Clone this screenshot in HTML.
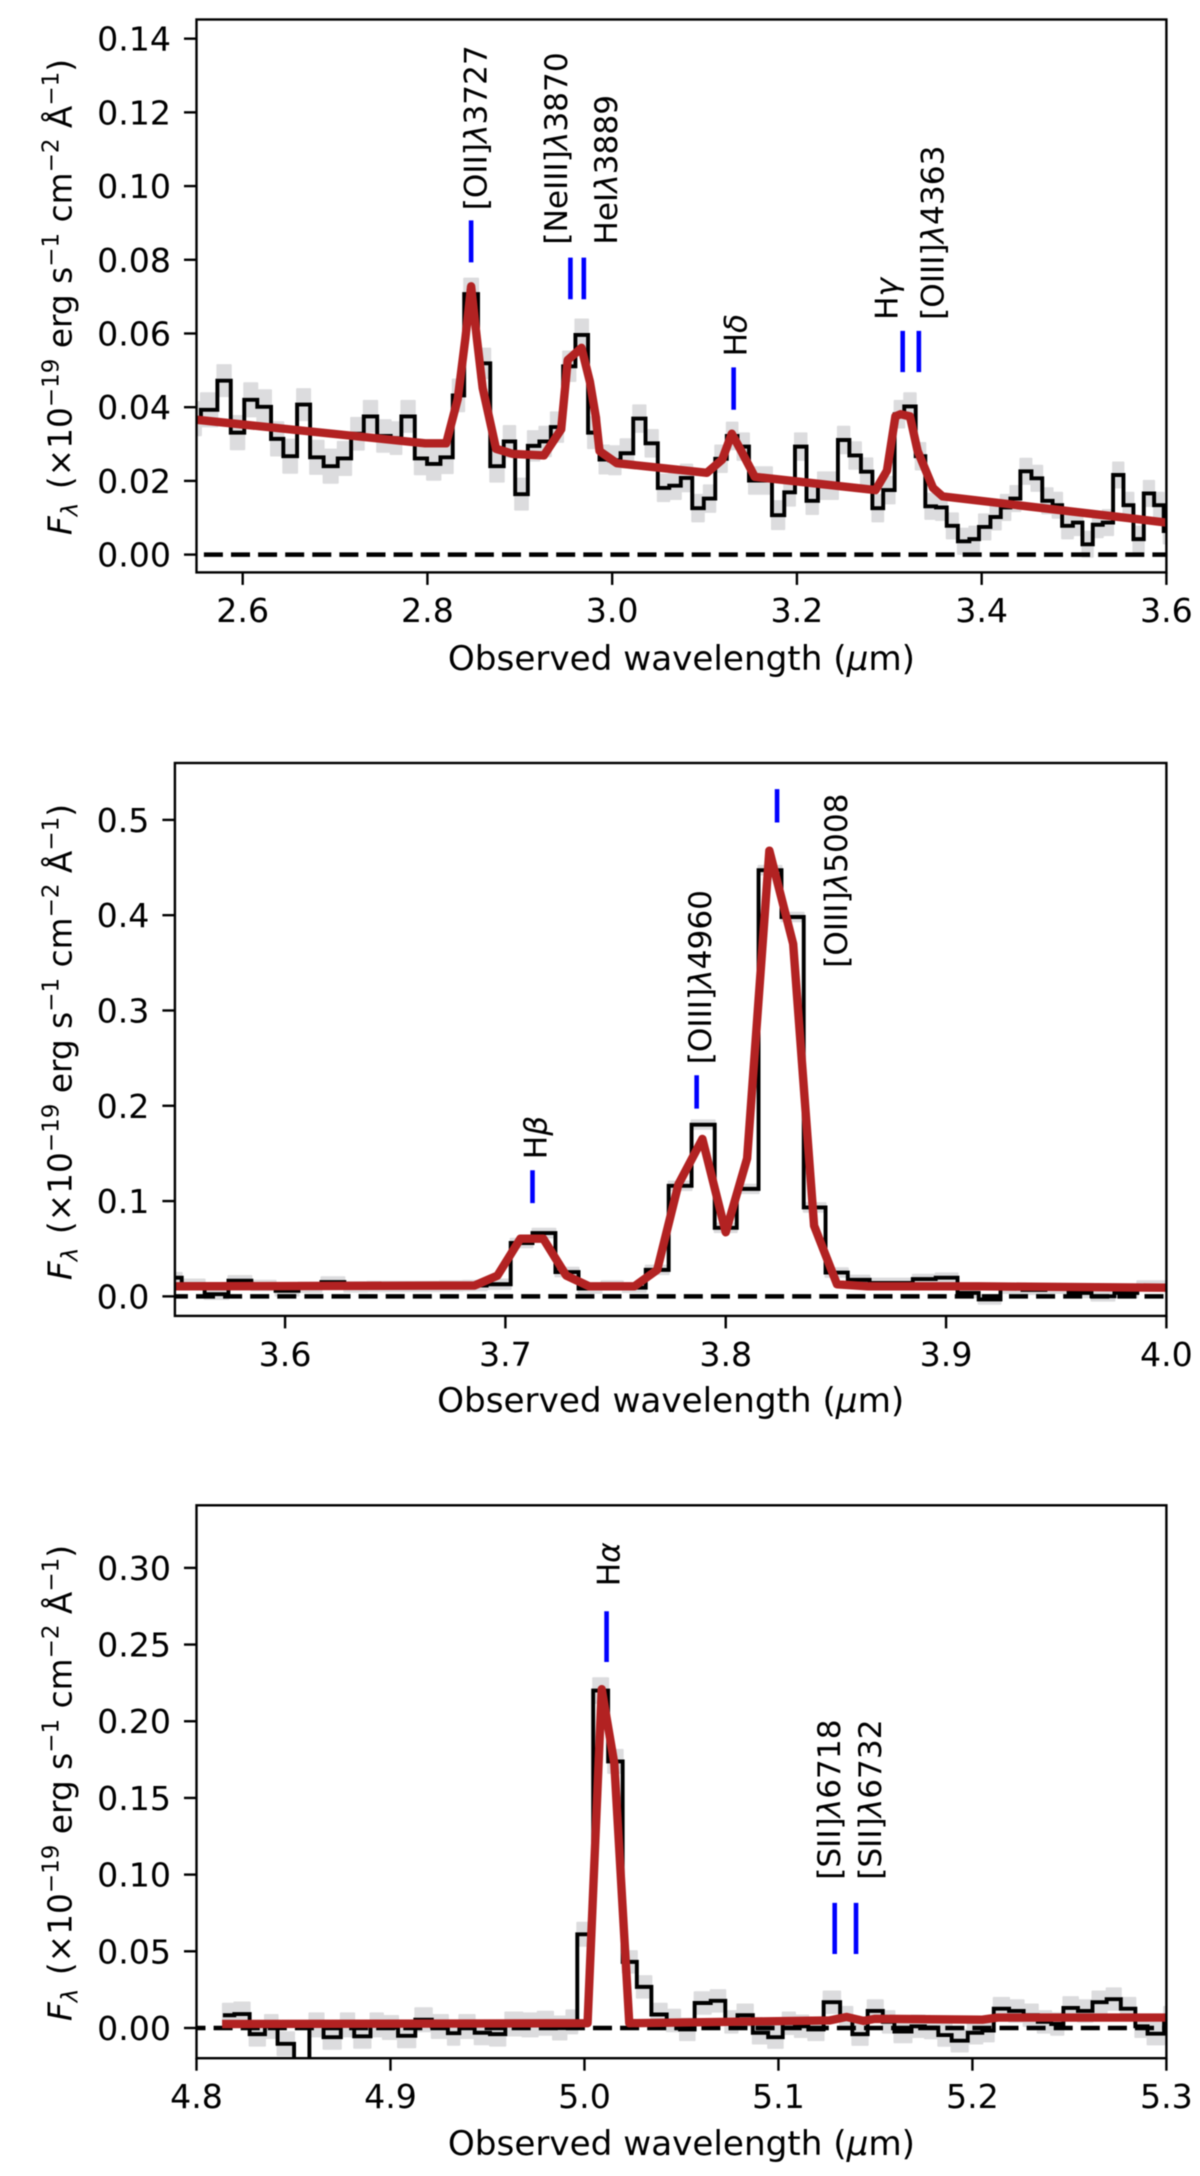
<!DOCTYPE html>
<html lang="en">
<head>
<meta charset="utf-8">
<title>Observed spectrum panels</title>
<style>
html,body{margin:0;padding:0;background:#fff;}
body{width:1200px;height:2176px;overflow:hidden;}
svg{position:absolute;left:0;top:0;filter:blur(0.55px);}
text{font-family:"DejaVu Sans","Liberation Sans",sans-serif;fill:#000;}
</style>
</head>
<body>
<svg id="fig" xmlns="http://www.w3.org/2000/svg" width="1200" height="2176" viewBox="0 0 1200 2176"></svg>
<script>
// ---------- Panel 1 data ----------
const edges1 = [2.55,2.5548,2.5726,2.5871,2.6017,2.6158,2.6307,2.6440,2.6589,2.6730,2.6876,2.7029,2.7174,2.7311,2.7456,2.7602,2.7718,2.7863,2.7996,2.8141,2.8274,2.8398,2.8548,2.8680,2.8826,2.8950,2.9087,2.9212,2.9336,2.9469,2.9602,2.9739,2.9863,2.9967,3.0091,3.0228,3.0361,3.0494,3.0618,3.0743,3.0867,3.0992,3.1116,3.1241,3.1357,3.1481,3.1606,3.1730,3.1863,3.1979,3.2104,3.2228,3.2332,3.2444,3.2568,3.2693,3.2817,3.2934,3.3058,3.3162,3.3286,3.3390,3.3506,3.3622,3.3743,3.3867,3.3971,3.4095,3.4207,3.4311,3.4419,3.4539,3.4656,3.4768,3.4871,3.4988,3.5091,3.5203,3.5311,3.5423,3.5535,3.5643,3.5755,3.5867,3.5971,3.6];
const flux1 = [.0369,.0393,.0472,.0331,.042,.0401,.0314,.0267,.0407,.0264,.024,.0261,.0328,.0375,.0322,.0316,.0375,.0261,.0246,.0264,.0432,.0707,.0519,.024,.0307,.0164,.0295,.0307,.0346,.0511,.0596,.0331,.0258,.0256,.0275,.0369,.0302,.0181,.0187,.0208,.0126,.0152,.026,.0322,.0293,.0201,.0201,.0107,.0169,.0293,.0146,.0187,.0187,.0311,.0269,.0225,.0126,.0175,.0381,.0402,.0267,.0131,.0128,.0078,.0036,.0042,.0075,.0102,.0128,.0152,.0226,.0207,.0146,.0134,.0078,.0087,.0028,.0081,.0087,.0216,.0134,.0042,.0166,.0134,.0064];
const err1 = [.0045,.0045,.0042,.0045,.0045,.0045,.0045,.0045,.0042,.0045,.0045,.0045,.0043,.0042,.0043,.0043,.0042,.0043,.0043,.0043,.0043,.0042,.0040,.0042,.0042,.0042,.0040,.0040,.0040,.0040,.0042,.0042,.0038,.0038,.0038,.0036,.0036,.0036,.0036,.0036,.0036,.0036,.0036,.0036,.0036,.0036,.0036,.0038,.0036,.0036,.0036,.0036,.0036,.0036,.0036,.0036,.0036,.0036,.0036,.0036,.0036,.0034,.0034,.0034,.0034,.0034,.0034,.0034,.0034,.0034,.0034,.0034,.0034,.0034,.0034,.0034,.0034,.0034,.0034,.0034,.0034,.0034,.0034,.0034,.0034];
const modelWave1 = [2.5498,2.7975,2.8203,2.8328,2.8411,2.8473,2.8535,2.8598,2.8743,2.8929,2.9261,2.9448,2.9519,2.9668,2.9759,2.9822,2.9863,3.005,3.1025,3.1191,3.1295,3.1398,3.1544,3.2851,3.2975,3.3066,3.3122,3.3224,3.3307,3.3473,3.3577,3.6];
const modelFlux1 = [.0366,.0302,.0302,.0422,.0587,.0728,.0587,.0452,.0287,.0273,.0269,.034,.0528,.0561,.0469,.0375,.0281,.0248,.0222,.0258,.0328,.0281,.0211,.0175,.0228,.0375,.0381,.0375,.0281,.0181,.0158,.0087];
const xTicks1 = [2.6,2.8,3.0,3.2,3.4,3.6];
const xTickLabels1 = ["2.6","2.8","3.0","3.2","3.4","3.6"];
const yTicks1 = [0,.02,.04,.06,.08,.10,.12,.14];
const yTickLabels1 = ["0.00","0.02","0.04","0.06","0.08","0.10","0.12","0.14"];
const lineNames1 = ["[OII]","[NeIII]","HeI","H","H","[OIII]"];
const lineSuffix1 = ["λ","λ","λ","δ","γ","λ"];
const lineTail1 = ["3727","3870","3889","","","4363"];
const lineWave1 = [2.8473,2.9548,2.9693,3.1315,3.3145,3.3320];
const lineLow1 = [.0793,.0693,.0693,.0393,.0495,.0495];
const lineHigh1 = [.0907,.0806,.0806,.0508,.0607,.0607];

// ---------- Panel 2 data ----------
const edges2 = [3.55,3.5531,3.5635,3.5743,3.5847,3.5957,3.6061,3.6165,3.6269,3.6373,3.6477,3.6582,3.6703,3.6807,3.6915,3.7024,3.7123,3.7227,3.7332,3.7436,3.7533,3.7637,3.7741,3.7845,3.795,3.805,3.8149,3.8253,3.8354,3.8453,3.8554,3.8653,3.8748,3.8849,3.8953,3.9052,3.9148,3.9247,3.9347,3.9451,3.9556,3.966,3.9764,3.9868,4.0];
const flux2 = [.0196,.0127,.0023,.0164,.0114,.0059,.0096,.015,.01,.0105,.0105,.0105,.011,.0114,.0127,.056,.0664,.0255,.0082,.0114,.0091,.0278,.116,.1802,.0719,.1128,.4472,.3981,.0933,.025,.0173,.0141,.0141,.0182,.0196,.0036,-.0032,.0082,.0068,.0082,.0036,0,.0036,.0114];
const err2 = [.005,.005,.005,.005,.005,.005,.005,.005,.005,.005,.005,.005,.005,.005,.005,.0045,.0045,.0045,.0045,.0045,.0045,.0045,.0045,.0045,.0045,.0045,.0045,.0045,.0045,.0045,.0045,.0045,.0045,.0045,.0045,.0045,.0045,.0045,.0045,.0045,.0045,.0045,.0045,.0045];
const modelWave2 = [3.55,3.686,3.6964,3.7068,3.7172,3.7276,3.738,3.7585,3.7689,3.7785,3.7894,3.8,3.8097,3.8198,3.8306,3.8401,3.8505,3.8644,3.9148,4.0];
const modelFlux2 = [.0105,.0114,.0218,.0605,.0605,.0218,.0105,.0105,.0278,.1174,.1652,.0673,.1447,.4677,.3699,.0742,.0127,.0105,.0105,.0091];
const xTicks2 = [3.6,3.7,3.8,3.9,4.0];
const xTickLabels2 = ["3.6","3.7","3.8","3.9","4.0"];
const yTicks2 = [0,.1,.2,.3,.4,.5];
const yTickLabels2 = ["0.0","0.1","0.2","0.3","0.4","0.5"];
const lineNames2 = ["H","[OIII]","[OIII]"];
const lineSuffix2 = ["β","λ","λ"];
const lineTail2 = ["","4960","5008"];
const lineWave2 = [3.7123,3.7868,3.8233];
const lineLow2 = [.0978,.197,.4973];
const lineHigh2 = [.1324,.232,.5323];

// ---------- Panel 3 data ----------
const edges3 = [4.8136,4.8195,4.8274,4.8353,4.8418,4.8503,4.8582,4.8655,4.8744,4.8813,4.8897,4.8961,4.9039,4.9128,4.9213,4.9296,4.9355,4.9434,4.9513,4.9592,4.968,4.9759,4.9838,4.9907,4.9963,5.0045,5.0122,5.0197,5.027,5.0345,5.0424,5.0493,5.0568,5.0651,5.0726,5.0789,5.0868,5.0947,5.1022,5.1085,5.1154,5.1233,5.1318,5.1381,5.146,5.1538,5.1598,5.1686,5.1755,5.1824,5.1893,5.1976,5.2051,5.211,5.2189,5.2264,5.2337,5.2406,5.2469,5.2544,5.2619,5.2692,5.2765,5.284,5.2903,5.2988,5.3];
const flux3 = [.0083,.0091,-.004,.001,-.0103,-.03,.002,-.006,.002,-.0054,.002,.0003,-.0051,.0054,.001,-.0034,.001,-.0031,-.004,.0026,.002,.0031,0,.004,.0611,.22,.1738,.0431,.0268,.0088,.0049,-.0009,.0163,.0177,.004,.0083,-.0031,-.006,.0031,.0011,-.0009,.0168,.0068,-.004,.0111,.004,-.0023,.0011,.0003,-.0046,-.0083,-.0031,-.0017,.0126,.0111,.0083,.004,.0026,.0131,.0111,.0168,.0188,.0126,.0011,-.0037,.0068];
const err3 = [.0075,.0075,.0075,.0075,.0075,.0075,.0075,.0075,.0075,.0075,.0075,.0075,.0075,.0075,.0075,.0075,.0075,.0075,.0075,.0075,.0075,.0075,.0075,.0075,.0075,.008,.0075,.007,.007,.007,.007,.007,.007,.007,.007,.007,.007,.007,.007,.007,.007,.007,.007,.007,.007,.007,.007,.007,.007,.007,.007,.007,.007,.007,.007,.007,.007,.007,.007,.007,.007,.007,.007,.007,.007,.007];
const modelWave3 = [4.8132,5.0016,5.0089,5.0154,5.0231,5.1262,5.1351,5.144,5.1499,5.2051,5.213,5.3];
const modelFlux3 = [.0026,.0031,.2209,.1724,.0031,.0049,.0072,.0046,.006,.0054,.0068,.0068];
const xTicks3 = [4.8,4.9,5.0,5.1,5.2,5.3];
const xTickLabels3 = ["4.8","4.9","5.0","5.1","5.2","5.3"];
const yTicks3 = [0,.05,.10,.15,.20,.25,.30];
const yTickLabels3 = ["0.00","0.05","0.10","0.15","0.20","0.25","0.30"];
const lineNames3 = ["H","[SII]","[SII]"];
const lineSuffix3 = ["α","λ","λ"];
const lineTail3 = ["","6718","6732"];
const lineWave3 = [5.0114,5.129,5.14];
const lineLow3 = [.2386,.0482,.0482];
const lineHigh3 = [.2717,.0816,.0816];

const NS = "http://www.w3.org/2000/svg";
const fig = document.getElementById("fig");
function mk(parent, tag, attrs, txt){
  const e = document.createElementNS(NS, tag);
  for (const k in attrs) e.setAttribute(k, attrs[k]);
  if (txt !== undefined) e.textContent = txt;
  parent.appendChild(e);
  return e;
}

function drawPanel(p, idx){
  const x = v => p.left + (v - p.xMin) / (p.xMax - p.xMin) * (p.right - p.left);
  const y = v => p.bottom - (v - p.yMin) / (p.yMax - p.yMin) * (p.bottom - p.top);

  const g = mk(fig, "g", {});
  
  

  const defs = mk(g, "defs", {});
  const cp = mk(defs, "clipPath", {id: "clip" + idx});
  mk(cp, "rect", {x: p.left, y: p.top, width: p.right - p.left, height: p.bottom - p.top});
  const plot = mk(g, "g", {"clip-path": "url(#clip" + idx + ")"});
  
  

  // error band
  let up = "", lo = "";
  for (let i = 0; i < p.flux.length; i++){
    up += (i ? "L" : "M") + x(p.edges[i]).toFixed(2) + " " + y(p.flux[i] + p.err[i]).toFixed(2) + "L" + x(p.edges[i+1]).toFixed(2) + " " + y(p.flux[i] + p.err[i]).toFixed(2);
  }
  for (let i = p.flux.length - 1; i >= 0; i--){
    lo += "L" + x(p.edges[i+1]).toFixed(2) + " " + y(p.flux[i] - p.err[i]).toFixed(2) + "L" + x(p.edges[i]).toFixed(2) + " " + y(p.flux[i] - p.err[i]).toFixed(2);
  }
  const band = mk(plot, "path", {d: up + lo + "Z", fill: "#dcdcde", stroke: "#dcdcde", "stroke-width": 2, "stroke-linejoin": "round"});
  
  

  // step spectrum
  let st = "";
  for (let i = 0; i < p.flux.length; i++){
    st += (i ? "L" : "M") + x(p.edges[i]).toFixed(2) + " " + y(p.flux[i]).toFixed(2) + "L" + x(p.edges[i+1]).toFixed(2) + " " + y(p.flux[i]).toFixed(2);
  }
  const step = mk(plot, "path", {d: st, fill: "none", stroke: "#000", "stroke-width": 3.9, "stroke-linejoin": "miter"});
  
  

  // zero line
  const zero = mk(plot, "line", {x1: x(p.dashStart), x2: p.right, y1: y(0), y2: y(0), stroke: "#000", "stroke-width": 4.5, "stroke-dasharray": "19 8.1", "stroke-dashoffset": p.dashOffset});
  
  

  // model
  let md = "";
  for (let i = 0; i < p.modelWave.length; i++){
    md += (i ? "L" : "M") + x(p.modelWave[i]).toFixed(2) + " " + y(p.modelFlux[i]).toFixed(2);
  }
  const model = mk(plot, "path", {d: md, fill: "none", stroke: "#b22222", "stroke-width": 8.4, "stroke-linejoin": "round", "stroke-linecap": "butt"});
  
  

  // emission line markers and labels
  for (let i = 0; i < p.lineWave.length; i++){
    const lx = x(p.lineWave[i]);
    const tick = mk(plot, "line", {x1: lx, x2: lx, y1: y(p.lineLow[i]), y2: y(p.lineHigh[i]), stroke: "#0000ff", "stroke-width": 4.6});
    
    
    const bx = lx + p.labelDx[i], by = y(p.lineHigh[i]) - p.labelGap[i];
    const t = mk(g, "text", {transform: "translate(" + bx.toFixed(1) + " " + by.toFixed(1) + ") rotate(-90)", "font-size": 31.2});
    
    
    mk(t, "tspan", {}, p.lineNames[i]);
    mk(t, "tspan", {"font-style": "italic"}, p.lineSuffix[i]);
    if (p.lineTail[i]) mk(t, "tspan", {}, p.lineTail[i]);
  }

  // frame
  const frame = mk(g, "rect", {x: p.left, y: p.top, width: p.right - p.left, height: p.bottom - p.top, fill: "none", stroke: "#000", "stroke-width": 2.4});
  
  

  // x ticks
  for (let i = 0; i < p.xTicks.length; i++){
    const tx = x(p.xTicks[i]);
    const tk = mk(g, "line", {x1: tx, x2: tx, y1: p.bottom, y2: p.bottom + 12.5, stroke: "#000", "stroke-width": 2.4});
    
    
    const lb = mk(g, "text", {x: tx, y: p.xTickBase, "text-anchor": "middle", "font-size": 33.2}, p.xTickLabels[i]);
    
    
  }
  // y ticks
  for (let i = 0; i < p.yTicks.length; i++){
    const ty = y(p.yTicks[i]);
    const tk = mk(g, "line", {x1: p.left - 12.5, x2: p.left, y1: ty, y2: ty, stroke: "#000", "stroke-width": 2.4});
    
    
    const lb = mk(g, "text", {x: p.left - 25.5, y: ty + 12, "text-anchor": "end", "font-size": 33.2}, p.yTickLabels[i]);
    
    
  }

  // x axis title
  const xt = mk(g, "text", {x: (p.left + p.right) / 2, y: p.xLabelBase, "text-anchor": "middle", "font-size": 34.2});
  
  
  mk(xt, "tspan", {}, "Observed wavelength (");
  mk(xt, "tspan", {"font-style": "italic"}, "μ");
  mk(xt, "tspan", {}, "m)");

  // y axis title
  const yt = mk(g, "text", {transform: "translate(71.5 " + p.yLabelCenter + ") rotate(-90)", "text-anchor": "middle", "font-size": 32.8});
  
  
  mk(yt, "tspan", {"font-style": "italic"}, "F");
  mk(yt, "tspan", {"font-style": "italic", "font-size": 23, dy: 6}, "λ");
  mk(yt, "tspan", {dy: -6, dx: 3}, " (×10");
  mk(yt, "tspan", {"font-size": 23, dy: -13}, "−19");
  mk(yt, "tspan", {dy: 13}, " erg s");
  mk(yt, "tspan", {"font-size": 23, dy: -13}, "−1");
  mk(yt, "tspan", {dy: 13}, " cm");
  mk(yt, "tspan", {"font-size": 23, dy: -13}, "−2");
  mk(yt, "tspan", {dy: 13}, " Å");
  mk(yt, "tspan", {"font-size": 23, dy: -13}, "−1");
  mk(yt, "tspan", {dy: 13}, ")");
}

drawPanel({left:196.5,right:1166.4,top:19.5,bottom:572.4,xMin:2.55,xMax:3.6,yMin:-0.00483,yMax:0.1452,
  edges:edges1,flux:flux1,err:err1,modelWave:modelWave1,modelFlux:modelFlux1,
  xTicks:xTicks1,xTickLabels:xTickLabels1,yTicks:yTicks1,yTickLabels:yTickLabels1,
  lineNames:lineNames1,lineSuffix:lineSuffix1,lineTail:lineTail1,lineWave:lineWave1,lineLow:lineLow1,lineHigh:lineHigh1,
  labelDx:[15.3,-3.6,33,13,-5,24.5],labelGap:[10,13,13,11,11,11],
  dashStart:2.558,dashOffset:0,xTickBase:622,xLabelBase:670,yLabelCenter:297}, 1);

drawPanel({left:174.9,right:1166.4,top:763,bottom:1315.9,xMin:3.55,xMax:4.0,yMin:-0.0205,yMax:0.5597,
  edges:edges2,flux:flux2,err:err2,modelWave:modelWave2,modelFlux:modelFlux2,
  xTicks:xTicks2,xTickLabels:xTickLabels2,yTicks:yTicks2,yTickLabels:yTickLabels2,
  lineNames:lineNames2,lineSuffix:lineSuffix2,lineTail:lineTail2,lineWave:lineWave2,lineLow:lineLow2,lineHigh:lineHigh2,
  labelDx:[13.8,14.2,69.8],labelGap:[11,11,-178.7],
  dashStart:3.55,dashOffset:6,xTickBase:1366,xLabelBase:1412,yLabelCenter:1042}, 2);

drawPanel({left:196.5,right:1166.4,top:1505.3,bottom:2058.2,xMin:4.8,xMax:5.3,yMin:-0.0197,yMax:0.3408,
  edges:edges3,flux:flux3,err:err3,modelWave:modelWave3,modelFlux:modelFlux3,
  xTicks:xTicks3,xTickLabels:xTickLabels3,yTicks:yTicks3,yTickLabels:yTickLabels3,
  lineNames:lineNames3,lineSuffix:lineSuffix3,lineTail:lineTail3,lineWave:lineWave3,lineLow:lineLow3,lineHigh:lineHigh3,
  labelDx:[13,5.3,24.9],labelGap:[25,23,23],
  dashStart:4.8,dashOffset:10,xTickBase:2108,xLabelBase:2155,yLabelCenter:1783}, 3);
</script>
</body>
</html>
